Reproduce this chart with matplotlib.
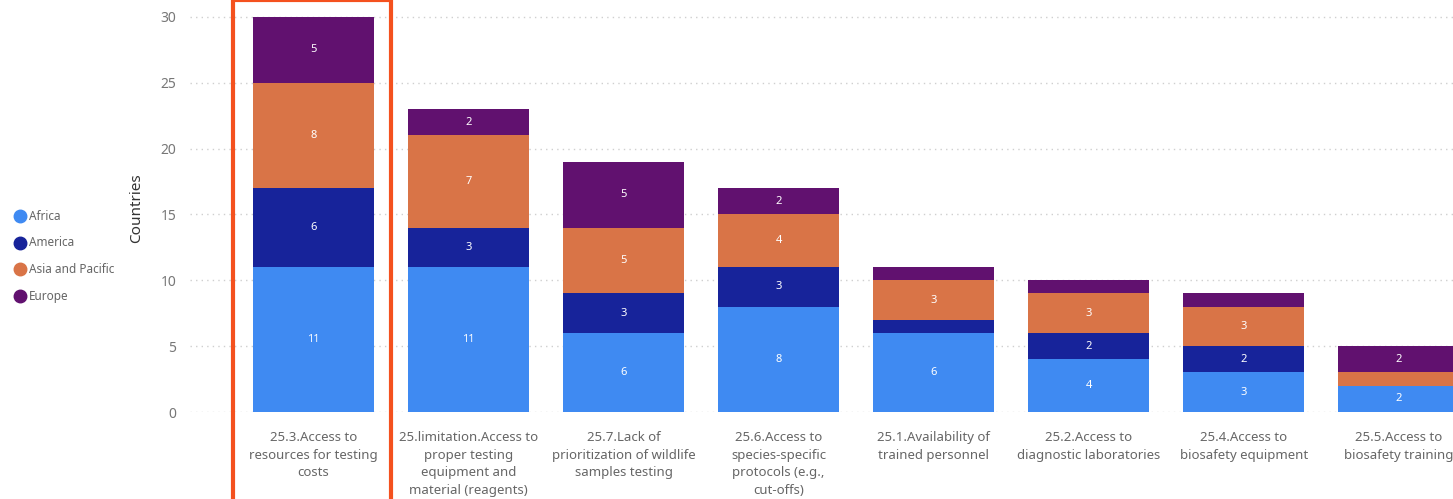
import matplotlib.pyplot as plt
import matplotlib.patches as mpatches
from matplotlib.lines import Line2D

plt.rcParams["font.family"] = ["Noto Sans", "DejaVu Sans"]

categories = [
    "25.3.Access to\nresources for testing\ncosts",
    "25.limitation.Access to\nproper testing\nequipment and\nmaterial (reagents)",
    "25.7.Lack of\nprioritization of wildlife\nsamples testing",
    "25.6.Access to\nspecies-specific\nprotocols (e.g.,\ncut-offs)",
    "25.1.Availability of\ntrained personnel",
    "25.2.Access to\ndiagnostic laboratories",
    "25.4.Access to\nbiosafety equipment",
    "25.5.Access to\nbiosafety training",
]
africa = [11, 11, 6, 8, 6, 4, 3, 2]
america = [6, 3, 3, 3, 1, 2, 2, 0]
asia_pacific = [8, 7, 5, 4, 3, 3, 3, 1]
europe = [5, 2, 5, 2, 1, 1, 1, 2]

series = [
    ("Africa", africa, "#3F8AF2"),
    ("America", america, "#17239A"),
    ("Asia and Pacific", asia_pacific, "#D97447"),
    ("Europe", europe, "#61116F"),
]
yticks = [0, 5, 10, 15, 20, 25, 30]

W, H = 1453, 499
fig = plt.figure(figsize=(W / 100, H / 100), dpi=100)
ax = fig.add_axes([190 / W, 87 / H, 1263 / W, (412 - 3.8) / H])

x = list(range(len(categories)))
bottom = [0] * len(categories)
for name, vals, color in series:
    ax.bar(x, vals, width=0.78, bottom=bottom, color=color, zorder=2)
    for i, v in enumerate(vals):
        if v > 1:
            ax.text(i, bottom[i] + v / 2, str(v), ha="center", va="center",
                    color="white", fontsize=8, zorder=3)
    bottom = [b + v for b, v in zip(bottom, vals)]

ax.set_xlim(-0.797, 7.35)
ax.set_ylim(0, 31)
ax.set_yticks(yticks)
ax.set_yticklabels([str(t) for t in yticks], color="#777777", fontsize=10)
ax.grid(axis="y", linestyle=(0, (1, 3)), color="#CFCFCF", linewidth=1, zorder=0)
ax.tick_params(axis="y", length=0, pad=10)
ax.set_xticks(x)
ax.set_xticklabels(categories, color="#666666", fontsize=9.5, linespacing=1.45)
ax.tick_params(axis="x", length=0, pad=14)
for s in ax.spines.values():
    s.set_visible(False)
ax.set_ylabel("Countries", fontsize=11, color="#333333", labelpad=12)

# legend on the left
for k, (name, vals, color) in enumerate(series):
    yy = 1 - (216 + 26.7 * k) / H
    fig.lines.append(Line2D([20 / W], [yy], marker="o", markersize=9, color=color,
                            linestyle="none", transform=fig.transFigure, figure=fig))
    fig.text(29 / W, yy, name, fontsize=8.5, color="#666666", va="center", ha="left")

# highlight box around first bar
fig.patches.append(mpatches.Rectangle((233 / W, -0.02), 158 / W, 1.02,
                                      transform=fig.transFigure, fill=False,
                                      edgecolor="#F4511E", linewidth=3, figure=fig))

fig.savefig("out.png", dpi=100, facecolor="white")
